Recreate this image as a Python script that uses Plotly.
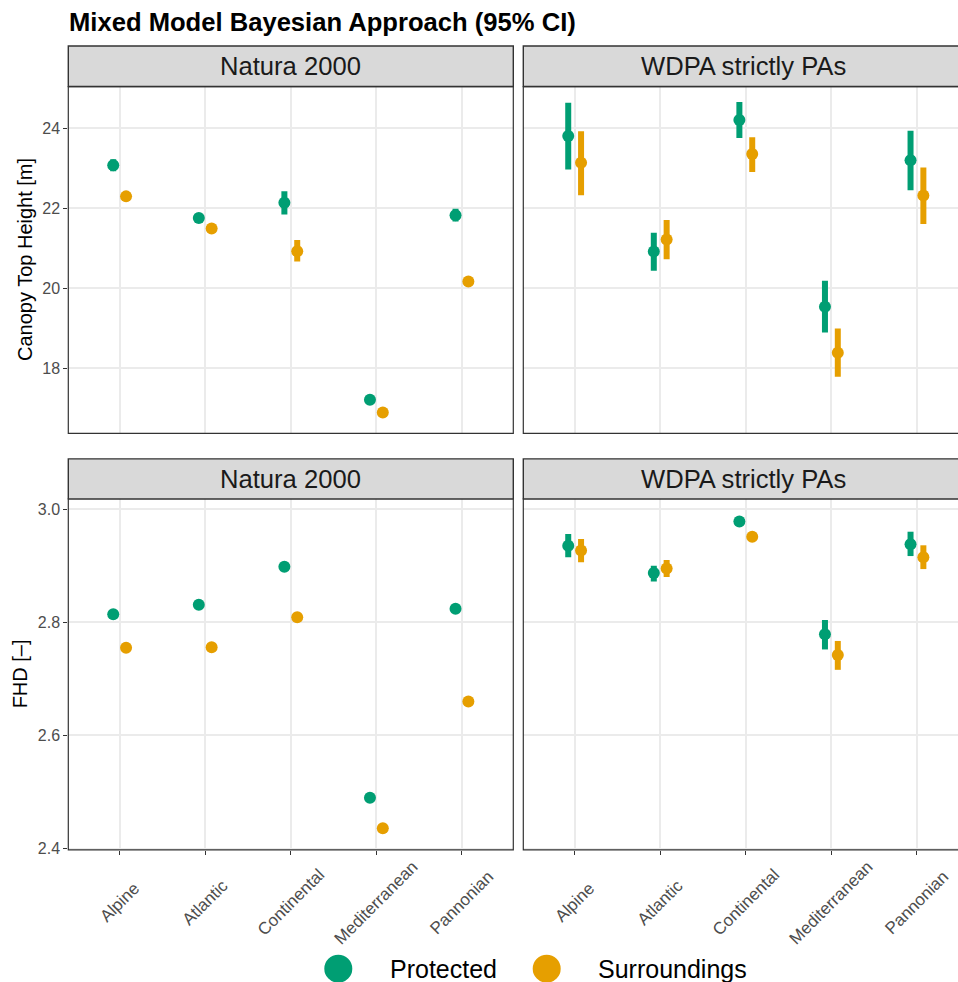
import plotly.graph_objects as go

# ---- data -------------------------------------------------------------
regions = ["Alpine", "Atlantic", "Continental", "Mediterranean", "Pannonian"]
series_names = ["Protected", "Surroundings"]
series_colors = ["#009E73", "#E69F00"]
facets = ["Natura 2000", "WDPA strictly PAs"]

# Canopy Top Height [m], Natura 2000
cth_n2k_prot = [23.08, 21.76, 22.14, 17.22, 21.83]
cth_n2k_prot_lo = [22.93, 21.68, 21.85, 17.14, 21.67]
cth_n2k_prot_hi = [23.23, 21.84, 22.43, 17.30, 21.99]
cth_n2k_surr = [22.30, 21.50, 20.93, 16.90, 20.17]
cth_n2k_surr_lo = [22.20, 21.42, 20.67, 16.83, 20.08]
cth_n2k_surr_hi = [22.40, 21.58, 21.21, 16.97, 20.26]

# Canopy Top Height [m], WDPA strictly PAs
cth_wdpa_prot = [23.81, 20.92, 24.21, 19.54, 23.20]
cth_wdpa_prot_lo = [22.97, 20.44, 23.76, 18.90, 22.45]
cth_wdpa_prot_hi = [24.64, 21.39, 24.66, 20.19, 23.94]
cth_wdpa_surr = [23.14, 21.22, 23.36, 18.39, 22.32]
cth_wdpa_surr_lo = [22.33, 20.73, 22.91, 17.79, 21.61]
cth_wdpa_surr_hi = [23.93, 21.71, 23.78, 19.00, 23.02]

# FHD [-], Natura 2000
fhd_n2k_prot = [2.814, 2.831, 2.898, 2.490, 2.824]
fhd_n2k_prot_lo = [2.810, 2.827, 2.894, 2.486, 2.820]
fhd_n2k_prot_hi = [2.818, 2.835, 2.902, 2.494, 2.828]
fhd_n2k_surr = [2.755, 2.756, 2.809, 2.436, 2.660]
fhd_n2k_surr_lo = [2.751, 2.752, 2.805, 2.432, 2.656]
fhd_n2k_surr_hi = [2.759, 2.760, 2.813, 2.440, 2.664]

# FHD [-], WDPA strictly PAs
fhd_wdpa_prot = [2.935, 2.887, 2.978, 2.779, 2.938]
fhd_wdpa_prot_lo = [2.915, 2.872, 2.971, 2.752, 2.917]
fhd_wdpa_prot_hi = [2.956, 2.900, 2.986, 2.804, 2.960]
fhd_wdpa_surr = [2.927, 2.895, 2.951, 2.742, 2.915]
fhd_wdpa_surr_lo = [2.906, 2.880, 2.944, 2.716, 2.894]
fhd_wdpa_surr_hi = [2.947, 2.910, 2.958, 2.767, 2.936]

cth_ticks = [18, 20, 22, 24]
fhd_ticks = [2.4, 2.6, 2.8, 3.0]

# ---- layout helpers ---------------------------------------------------
W, H = 958, 982
VSCALE = 0.9925  # vertical fit of the rendered page
FONT = "Liberation Sans, Arial, Helvetica, sans-serif"


def px(x):
    return x / W


def py(y):
    return 1 - (y / VSCALE) / H


L_LEFT, L_RIGHT = 68.3, 513.3
R_LEFT, R_RIGHT = 523.3, 969.0
TOP_Y0, TOP_Y1 = 86.5, 433.3
BOT_Y0, BOT_Y1 = 498.7, 849.5
TOP_STRIP = (46.0, 86.5)
BOT_STRIP = (458.7, 498.7)
XLABEL_Y = 902.0
UNIT = (L_RIGHT - L_LEFT) / 5.2  # px per category step
DODGE = 0.075

panels = [
    # (axis suffix, x-domain px, y-domain px, series data)
    ("", (L_LEFT, L_RIGHT), (TOP_Y0, TOP_Y1),
     [(cth_n2k_prot, cth_n2k_prot_lo, cth_n2k_prot_hi),
      (cth_n2k_surr, cth_n2k_surr_lo, cth_n2k_surr_hi)]),
    ("2", (R_LEFT, W), (TOP_Y0, TOP_Y1),
     [(cth_wdpa_prot, cth_wdpa_prot_lo, cth_wdpa_prot_hi),
      (cth_wdpa_surr, cth_wdpa_surr_lo, cth_wdpa_surr_hi)]),
    ("3", (L_LEFT, L_RIGHT), (BOT_Y0, BOT_Y1),
     [(fhd_n2k_prot, fhd_n2k_prot_lo, fhd_n2k_prot_hi),
      (fhd_n2k_surr, fhd_n2k_surr_lo, fhd_n2k_surr_hi)]),
    ("4", (R_LEFT, W), (BOT_Y0, BOT_Y1),
     [(fhd_wdpa_prot, fhd_wdpa_prot_lo, fhd_wdpa_prot_hi),
      (fhd_wdpa_surr, fhd_wdpa_surr_lo, fhd_wdpa_surr_hi)]),
]

positions = [i + 1 for i in range(len(regions))]

fig = go.Figure()

for suffix, _, _, series in panels:
    for k, (est, lo, hi) in enumerate(series):
        offset = -DODGE if k == 0 else DODGE
        xs = [p + offset for p in positions]
        fig.add_trace(go.Scatter(
            x=xs, y=est, mode="markers",
            name=series_names[k], showlegend=False,
            marker=dict(size=12, color=series_colors[k]),
            error_y=dict(type="data", symmetric=False,
                         array=[h - e for h, e in zip(hi, est)],
                         arrayminus=[e - l for e, l in zip(est, lo)],
                         color=series_colors[k], thickness=6, width=0),
            xaxis="x" + suffix, yaxis="y" + suffix,
            hovertext=regions,
        ))

grid = dict(showgrid=True, gridcolor="#EBEBEB", gridwidth=1.5,
            zeroline=False, showline=False)

layout_axes = {}
annotations = []
for suffix, xd, yd, _ in panels:
    is_right = suffix in ("2", "4")
    is_bottom = suffix in ("3", "4")
    x_span = (xd[1] - xd[0]) / UNIT
    xa = dict(grid, domain=[px(xd[0]), px(xd[1])],
              range=[0.4, 0.4 + x_span],
              tickmode="array", tickvals=positions,
              anchor="y" + suffix,
              showticklabels=False,
              ticks="outside" if is_bottom else "",
              ticklen=4, tickwidth=1.1, tickcolor="#333333")
    if is_bottom:
        yr = [2.398, 3.018]
        yt = fhd_ticks
        fmt = ".1f"
        # rotated category labels, centred under each tick
        for p, name in zip(positions, regions):
            annotations.append(dict(
                text=name, xref="x" + suffix, yref="paper",
                x=p, y=py(XLABEL_Y), textangle=-45,
                xanchor="center", yanchor="middle", showarrow=False,
                font=dict(family=FONT, size=17, color="#4D4D4D")))
    else:
        yr = [16.375, 25.045]
        yt = cth_ticks
        fmt = "d"
    ya = dict(grid, domain=[py(yd[1]), py(yd[0])], range=yr,
              tickmode="array", tickvals=yt, tickformat=fmt,
              anchor="x" + suffix,
              showticklabels=not is_right,
              ticks="" if is_right else "outside",
              ticklen=4, tickwidth=1.1, tickcolor="#333333",
              tickfont=dict(family=FONT, size=16, color="#4D4D4D"))
    layout_axes["xaxis" + suffix] = xa
    layout_axes["yaxis" + suffix] = ya

shapes = []

# panel borders
for x0, x1 in [(L_LEFT, L_RIGHT), (R_LEFT, R_RIGHT)]:
    for y0, y1 in [(TOP_Y0, TOP_Y1), (BOT_Y0, BOT_Y1)]:
        shapes.append(dict(type="rect", xref="paper", yref="paper",
                           x0=px(x0), x1=px(x1), y0=py(y1), y1=py(y0),
                           line=dict(color="#333333", width=1.2),
                           fillcolor="rgba(0,0,0,0)", layer="above"))

# facet strips
strip_text_x = [290.8, 743.5]
for sy0, sy1 in [TOP_STRIP, BOT_STRIP]:
    for (x0, x1), label, tx in zip([(L_LEFT, L_RIGHT), (R_LEFT, R_RIGHT)],
                                   facets, strip_text_x):
        shapes.append(dict(type="rect", xref="paper", yref="paper",
                           x0=px(x0), x1=px(x1), y0=py(sy1), y1=py(sy0),
                           line=dict(color="#333333", width=1.4),
                           fillcolor="#D9D9D9", layer="above"))
        annotations.append(dict(text=label, xref="paper", yref="paper",
                                x=px(tx), y=py((sy0 + sy1) / 2),
                                xanchor="center", yanchor="middle",
                                showarrow=False,
                                font=dict(family=FONT, size=25.6,
                                          color="#1A1A1A")))

# title
annotations.append(dict(text="<b>Mixed Model Bayesian Approach (95% CI)</b>",
                        xref="paper", yref="paper", x=px(67), y=py(22),
                        xanchor="left", yanchor="middle", showarrow=False,
                        font=dict(family=FONT, size=25.6, color="#000000")))

# y-axis titles
annotations.append(dict(text="Canopy Top Height [m]", xref="paper",
                        yref="paper", x=px(25), y=py((TOP_Y0 + TOP_Y1) / 2),
                        textangle=-90, showarrow=False,
                        xanchor="center", yanchor="middle",
                        font=dict(family=FONT, size=20, color="#000000")))
annotations.append(dict(text="FHD [–]", xref="paper",
                        yref="paper", x=px(20), y=py((BOT_Y0 + BOT_Y1) / 2),
                        textangle=-90, showarrow=False,
                        xanchor="center", yanchor="middle",
                        font=dict(family=FONT, size=20, color="#000000")))

# legend keys
legend_key_x = [338.3, 546.7]
legend_text_x = [388, 596]
for name, color, kx, tx in zip(series_names, series_colors,
                               legend_key_x, legend_text_x):
    shapes.append(dict(type="circle", xref="paper", yref="paper",
                       x0=px(kx - 14), x1=px(kx + 14),
                       y0=py(968.3 + 14), y1=py(968.3 - 14),
                       fillcolor=color, line=dict(width=0)))
    annotations.append(dict(text=name, xref="paper", yref="paper",
                            x=px(tx), y=py(969), xanchor="left",
                            yanchor="middle", showarrow=False,
                            font=dict(family=FONT, size=25,
                                      color="#000000")))

fig.update_layout(
    width=W, height=H,
    margin=dict(l=0, r=0, t=0, b=0),
    paper_bgcolor="white", plot_bgcolor="white",
    showlegend=False,
    shapes=shapes, annotations=annotations,
    font=dict(family=FONT),
    **layout_axes,
)

fig.write_html("out.html")
